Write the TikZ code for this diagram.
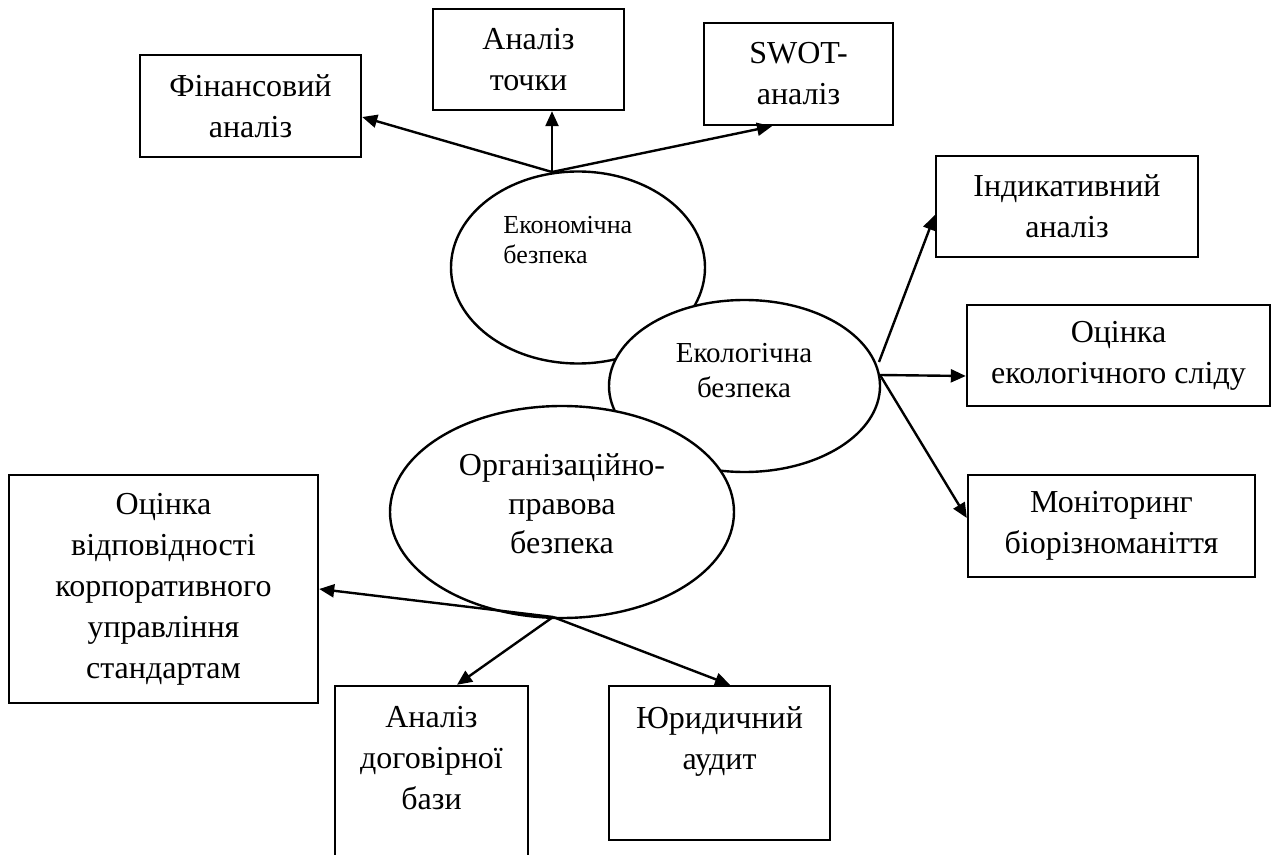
\documentclass[tikz,border=0pt]{standalone}
\usepackage{fontspec}
\setmainfont{Liberation Serif}
\usetikzlibrary{arrows.meta,shapes.geometric}
\tikzset{
  box/.style={draw, line width=1.2pt, rectangle, inner sep=0pt, fill=white},
  oval/.style={draw, line width=1.2pt, ellipse, inner sep=0pt, fill=white},
  txt/.style={align=center, inner sep=0pt, font=\fontsize{16pt}{20.5pt}\selectfont},
  arr/.style={line width=1.2pt, -{Triangle[length=7.5pt,width=6.5pt]}},
}
\begin{document}
\begin{tikzpicture}[x=0.5pt,y=-0.5pt]
\useasboundingbox (0,0) rectangle (1274,855);
\clip (0,0) rectangle (1274,855);
\fill[white] (0,0) rectangle (1274,855);

% top boxes
\node[box,txt,minimum width=110.5pt,minimum height=51pt] (fin) at (250.5,106) {Фінансовий\\аналіз};
\node[box,txt,minimum width=95.5pt,minimum height=50.5pt] (tochky) at (528.5,59.5) {Аналіз\\точки};
\node[box,txt,minimum width=94.5pt,minimum height=51pt] (swot) at (798.5,74) {SWOT-\\аналіз};

% right boxes
\node[box,txt,minimum width=131pt,minimum height=50.5pt] (indyk) at (1067,206.5) {Індикативний\\аналіз};
\node[box,txt,minimum width=151.5pt,minimum height=50.5pt] (slid) at (1118.5,355.5) {Оцінка\\екологічного сліду};
\node[box,txt,minimum width=143.5pt,minimum height=51pt] (monit) at (1111.5,526) {Моніторинг\\біорізноманіття};

% left and bottom boxes
\node[box,txt,minimum width=154.5pt,minimum height=114pt] (vidp) at (163.5,589) {Оцінка\\відповідності\\корпоративного\\управління\\стандартам};
\node[box,minimum width=96.5pt,minimum height=97pt] (dogov) at (431.5,783) {};
\node[txt,anchor=north] (dogovt) at ([yshift=-10.5pt]dogov.north) {Аналіз\\договірної\\бази};
\node[box,minimum width=110.5pt,minimum height=77pt] (jur) at (719.5,763) {};
\node[txt,anchor=north] (jurt) at ([yshift=-10.5pt]jur.north) {Юридичний\\аудит};

% ellipses
\node[oval,minimum width=127pt,minimum height=96pt] (econ) at (578,267.5) {};
\node[align=left,inner sep=0pt,font=\fontsize{13pt}{15pt}\selectfont,anchor=west] (econt) at (503,240) {Економічна\\безпека};
\node[oval,minimum width=135.5pt,minimum height=86pt] (eco) at (744.5,386) {};
\node[align=center,inner sep=0pt,font=\fontsize{14.5pt}{17.5pt}\selectfont] (ecot) at (744,371) {Екологічна\\безпека};
\node[oval,minimum width=172pt,minimum height=106pt] (org) at (562,512) {};
\node[txt,font=\fontsize{16pt}{19.5pt}\selectfont] (orgt) at (562,504) {Організаційно-\\правова\\безпека};

% hubs
\coordinate (econhub) at (552,172);
\coordinate (ecohubA) at (879,362);
\coordinate (ecohubB) at (880,375);
\coordinate (orghub) at (553,617);

% arrows
\draw[arr] (econhub) -- ([yshift=-5.5pt]fin.east);
\draw[arr] (econhub) -- ([xshift=11.75pt]tochky.south);
\draw[arr] (econhub) -- ([xshift=-13.25pt]swot.south);

\draw[arr] (ecohubA) -- ([yshift=-4.25pt]indyk.west);
\draw[arr] (ecohubB) -- ([yshift=-10.25pt]slid.west);
\draw[arr] (ecohubB) -- ([yshift=4pt]monit.west);

\draw[arr] (orghub) -- (vidp.east);
\draw[arr] (orghub) -- ([xshift=12.75pt]dogov.north);
\draw[arr] (orghub) -- ([xshift=5.25pt]jur.north);
\end{tikzpicture}
\end{document}
